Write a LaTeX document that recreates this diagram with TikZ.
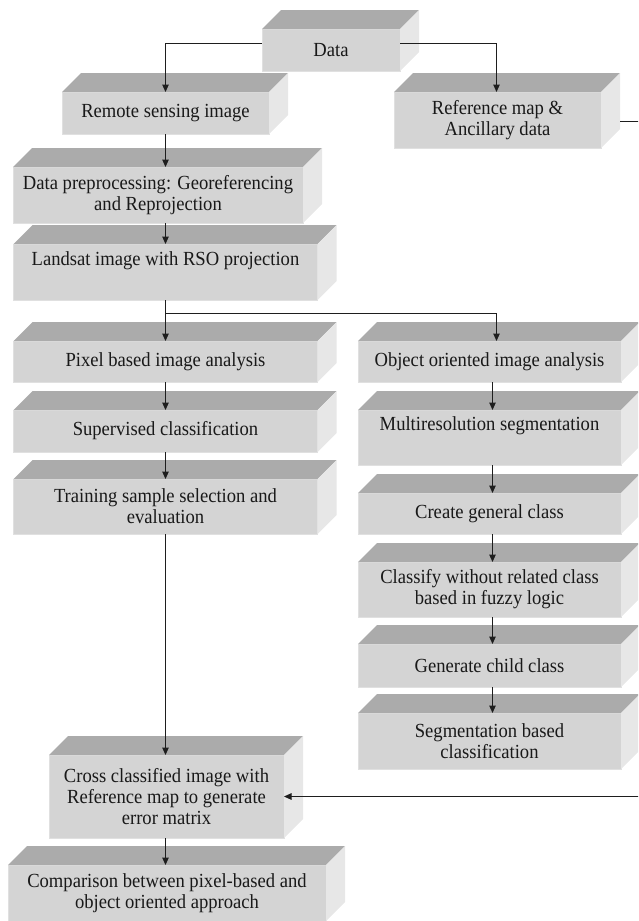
\documentclass[tikz,border=0pt]{standalone}
\usepackage{fontspec}
\setmainfont{Liberation Serif}[FakeStretch=0.93]
\usetikzlibrary{arrows.meta}
\definecolor{topc}{RGB}{171,171,171}
\definecolor{frontc}{RGB}{212,212,212}
\definecolor{sidec}{RGB}{231,231,231}
\definecolor{edgec}{RGB}{224,224,224}
\definecolor{linec}{RGB}{30,30,30}
\tikzset{
  box/.style={draw=edgec, line width=0.8pt, fill=frontc, inner sep=0pt, outer sep=0pt,
    align=center, font=\fontsize{20pt}{20.8pt}\selectfont, text=black!90},
  topface/.style={fill=topc},
  sideface/.style={fill=sidec},
  conn/.style={draw=linec, line width=1pt},
  arr/.style={conn, -{Triangle[length=7.5pt,width=6.5pt]}},
}
\newcommand\cubefaces[1]{%
  \fill[topface] (#1.north west) -- ++(19,-19) -- ([xshift=19pt,yshift=19pt]#1.north east) -- (#1.north east) -- cycle;
  \fill[sideface] (#1.north east) -- ++(19,-19) -- ([xshift=19pt,yshift=19pt]#1.south east) -- (#1.south east) -- cycle;
}
\begin{document}
\begin{tikzpicture}[x=1pt,y=-1pt]
\useasboundingbox (0,0) rectangle (638,921);
\clip (0,0) rectangle (638,921);
% boxes
\node[box, minimum width=138pt, minimum height=42pt] (data) at (331,50) {Data};
\node[box, minimum width=207pt, minimum height=42pt] (rsi) at (165.5,113) {Remote sensing image};
\node[box, minimum width=207pt, minimum height=56pt] (ref) at (497.5,120) {Reference map \&\\Ancillary data};
\node[box, minimum width=290pt, minimum height=56pt] (pre) at (158,195) {Data preprocessing: Georeferencing\\and Reprojection};
\node[box, minimum width=304pt, minimum height=56pt] (land) at (165.5,272) {Landsat image with RSO projection\\\strut};
\node[box, minimum width=304pt, minimum height=41pt] (pix) at (165.5,361.5) {Pixel based image analysis};
\node[box, minimum width=263pt, minimum height=41pt] (obj) at (489.5,361.5) {Object oriented image analysis};
\node[box, minimum width=304pt, minimum height=42pt] (sup) at (165.5,431) {Supervised classification};
\node[box, minimum width=263pt, minimum height=55pt] (multi) at (489.5,437.5) {Multiresolution segmentation\\\strut};
\node[box, minimum width=304pt, minimum height=55pt] (train) at (165.5,506.5) {Training sample selection and\\evaluation};
\node[box, minimum width=263pt, minimum height=41pt] (create) at (489.5,513.5) {Create general class};
\node[box, minimum width=263pt, minimum height=55pt] (classify) at (489.5,589.5) {Classify without related class\\based in fuzzy logic};
\node[box, minimum width=263pt, minimum height=43pt] (child) at (489.5,665.5) {Generate child class};
\node[box, minimum width=263pt, minimum height=56pt] (segm) at (489.5,741) {Segmentation based\\classification};
\node[box, minimum width=235pt, minimum height=83pt] (cross) at (166.5,796.5) {Cross classified image with\\Reference map to generate\\error matrix};
\node[box, minimum width=318pt, minimum height=56pt] (comp) at (167,893) {Comparison between pixel-based and\\object oriented approach};
% 3D faces
\foreach \n in {data,rsi,ref,pre,land,pix,obj,sup,multi,train,create,classify,child,segm,cross,comp}{\cubefaces{\n}}
% helper coordinates
\coordinate (jr) at (496.5,313);
\coordinate (edge) at (646,0);
% connectors
\draw[arr] ([yshift=7pt]data.west) -| (rsi.north);
\draw[arr] ([yshift=7pt]data.east) -| ([xshift=-1pt]ref.north);
\draw[arr] (rsi.south) -- (rsi.south |- pre.north);
\draw[arr] (rsi.south |- pre.south) -- (land.north);
\draw[conn] (land.south) |- (jr);
\draw[arr] (land.south |- jr) -- (pix.north);
\draw[arr] (jr) -- (jr |- obj.north);
\draw[arr] (pix.south) -- (sup.north);
\draw[arr] (sup.south) -- (train.north);
\draw[arr] (train.south) -- (train.south |- cross.north);
\draw[arr] (cross.south -| train.south) -- (train.south |- comp.north);
\draw[arr] ([xshift=3pt]obj.south) -- ([xshift=3pt]multi.north);
\draw[arr] ([xshift=3pt]multi.south) -- ([xshift=3pt]create.north);
\draw[arr] ([xshift=3pt]create.south) -- ([xshift=3pt]classify.north);
\draw[arr] ([xshift=3pt]classify.south) -- ([xshift=3pt]child.north);
\draw[arr] ([xshift=3pt]child.south) -- ([xshift=3pt]segm.north);
\draw[arr] ([xshift=19pt,yshift=-1pt]ref.east) -- ([yshift=-1pt]ref.east -| edge) -- (edge |- cross.east) -- (cross.east);
\end{tikzpicture}
\end{document}
